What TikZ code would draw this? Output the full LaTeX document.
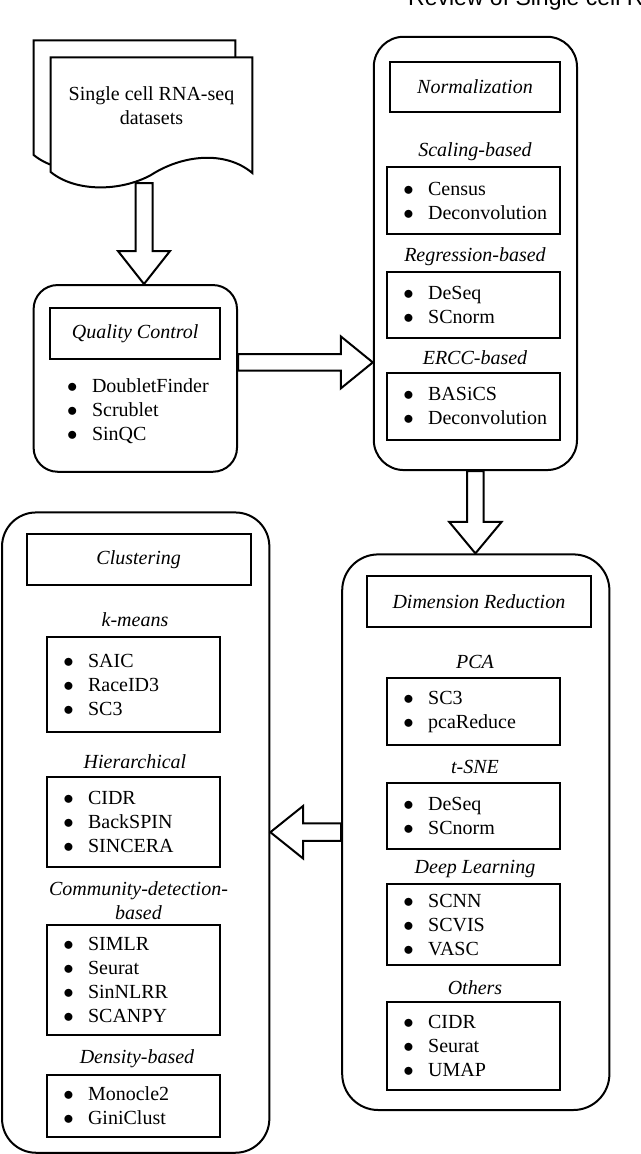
\documentclass[tikz,border=0pt]{standalone}
\usepackage{fontspec}
\setmainfont{Liberation Serif}
\newfontfamily\hdrfont{Liberation Sans}
\usetikzlibrary{calc}
\newcommand{\itm}[1]{\makebox[24.8pt][l]{$\bullet$}\mbox{#1}}
\tikzset{
  panel/.style={draw,line width=2pt,rounded corners=30pt,inner sep=0pt},
  hbox/.style={draw,line width=2pt,inner sep=0pt,font=\itshape},
  lbox/.style={draw,line width=2pt,inner xsep=16pt,inner ysep=0pt,minimum width=172.7pt,text width=140.7pt,align=left},
  clab/.style={font=\itshape},
  barrow/.style={draw,line width=2pt,fill=white,line join=miter},
  sheet/.style={draw,line width=2pt,fill=white}
}
\begin{document}
\fontsize{20}{24}\selectfont
\begin{tikzpicture}[x=1pt,y=-1pt]
  \useasboundingbox (0,0) rectangle (640,1154);
  \clip (0,0) rectangle (640,1154);
  % page header, cut by the top edge
  \node[anchor=base west,inner sep=0pt,font=\hdrfont\fontsize{23}{27}\selectfont] (hdr) at (408,5) {Review of Single cell R};
  % input datasets
  \foreach \s in {17,0}
    \draw[sheet,shift={(-\s,-\s)}] (50.7,57.3) -- (252.3,57.3) -- (252.3,173) .. controls (225,150) and (182,155) .. (151,175) .. controls (120,192) and (75,192) .. (50.7,172) -- cycle;
  \node[align=center] (doc) at (151.5,106) {Single cell RNA-seq\\datasets};
  % quality control
  \node[panel,minimum width=203.4pt,minimum height=186.7pt,rounded corners=24pt] (qc) at (135.3,378.4) {};
  \node[hbox,minimum width=169.6pt,minimum height=50.7pt] (qct) at (135.2,333.7) {Quality Control};
  \node[anchor=west,align=left,inner sep=0pt] (qcl) at (67,411.5) {\itm{DoubletFinder}\\\itm{Scrublet}\\\itm{SinQC}};
  % normalization
  \node[panel,minimum width=203.2pt,minimum height=433.3pt] (norm) at (475.4,253.4) {};
  \node[hbox,minimum width=170pt,minimum height=50.6pt] (normt) at (475,87) {Normalization};
  \node[clab] (nl1) at (475,151.7) {Scaling-based};
  \node[lbox,minimum height=67.6pt] (nb1) at (473.7,200.5) {\itm{Census}\\\itm{Deconvolution}};
  \node[clab] (nl2) at (475,256.7) {Regression-based};
  \node[lbox,minimum height=66.6pt] (nb2) at (473.7,305) {\itm{DeSeq}\\\itm{SCnorm}};
  \node[clab] (nl3) at (475,357.3) {ERCC-based};
  \node[lbox,minimum height=67.3pt] (nb3) at (473.7,406.4) {\itm{BASiCS}\\\itm{Deconvolution}};
  % dimension reduction
  \node[panel,minimum width=267.2pt,minimum height=555.6pt,rounded corners=36pt] (dr) at (475.8,832.2) {};
  \node[hbox,minimum width=224.2pt,minimum height=51.1pt] (drt) at (478.9,601.8) {Dimension Reduction};
  \node[clab] (dl1) at (475,662.3) {PCA};
  \node[lbox,minimum height=67.7pt] (db1) at (473.7,711.5) {\itm{SC3}\\\itm{pcaReduce}};
  \node[clab] (dl2) at (475,767.2) {t-SNE};
  \node[lbox,minimum height=66.9pt] (db2) at (473.7,816) {\itm{DeSeq}\\\itm{SCnorm}};
  \node[clab] (dl3) at (475,868.6) {Deep Learning};
  \node[lbox,minimum height=81.3pt] (db3) at (473.7,924.6) {\itm{SCNN}\\\itm{SCVIS}\\\itm{VASC}};
  \node[clab] (dl4) at (475,987.9) {Others};
  \node[lbox,minimum height=87.9pt] (db4) at (473.7,1045.9) {\itm{CIDR}\\\itm{Seurat}\\\itm{UMAP}};
  % clustering
  \node[panel,minimum width=267.3pt,minimum height=640.3pt,rounded corners=34pt] (clu) at (135.7,832.6) {};
  \node[hbox,minimum width=224.2pt,minimum height=50.8pt] (clut) at (138.7,559.6) {Clustering};
  \node[clab] (cl1) at (135,620) {k-means};
  \node[lbox,minimum height=95.2pt] (cb1) at (133.6,684.6) {\itm{SAIC}\\\itm{RaceID3}\\\itm{SC3}};
  \node[clab] (cl2) at (135,762) {Hierarchical};
  \node[lbox,minimum height=90.1pt] (cb2) at (133.6,821.9) {\itm{CIDR}\\\itm{BackSPIN}\\\itm{SINCERA}};
  \node[clab,align=center] (cl3) at (138.5,901) {Community-detection-\\based};
  \node[lbox,minimum height=109.7pt] (cb3) at (133.6,980.3) {\itm{SIMLR}\\\itm{Seurat}\\\itm{SinNLRR}\\\itm{SCANPY}};
  \node[clab] (cl4) at (137,1059.2) {Density-based};
  \node[lbox,minimum height=62pt] (cb4) at (133.6,1105.5) {\itm{Monocle2}\\\itm{GiniClust}};
  % block arrows
  \coordinate (a1s) at (144,183);
  \coordinate (a1t) at (qc.north -| a1s);
  \draw[barrow] ($(a1s)+(-8.5,0)$) -- ($(a1t)+(-8.5,-33)$) -- ($(a1t)+(-26,-33)$) -- (a1t) -- ($(a1t)+(26,-33)$) -- ($(a1t)+(8.5,-33)$) -- ($(a1s)+(8.5,0)$) -- cycle;
  \coordinate (a2s) at ($(qc.east)+(0,-16)$);
  \coordinate (a2t) at (norm.west |- a2s);
  \draw[barrow] ($(a2s)+(0,-8.3)$) -- ($(a2t)+(-32,-8.3)$) -- ($(a2t)+(-32,-26)$) -- (a2t) -- ($(a2t)+(-32,26)$) -- ($(a2t)+(-32,8.3)$) -- ($(a2s)+(0,8.3)$) -- cycle;
  \coordinate (a3t) at (dr.north -| norm.south);
  \draw[barrow] ($(norm.south)+(-8.2,0)$) -- ($(a3t)+(-8.2,-31.5)$) -- ($(a3t)+(-26.2,-31.5)$) -- (a3t) -- ($(a3t)+(26.2,-31.5)$) -- ($(a3t)+(8.2,-31.5)$) -- ($(norm.south)+(8.2,0)$) -- cycle;
  \coordinate (a4t) at (clu.east |- dr.west);
  \draw[barrow] ($(dr.west)+(0,-8.75)$) -- ($(a4t)+(32.8,-8.75)$) -- ($(a4t)+(32.8,-26.3)$) -- (a4t) -- ($(a4t)+(32.8,26.3)$) -- ($(a4t)+(32.8,8.75)$) -- ($(dr.west)+(0,8.75)$) -- cycle;
\end{tikzpicture}
\end{document}
